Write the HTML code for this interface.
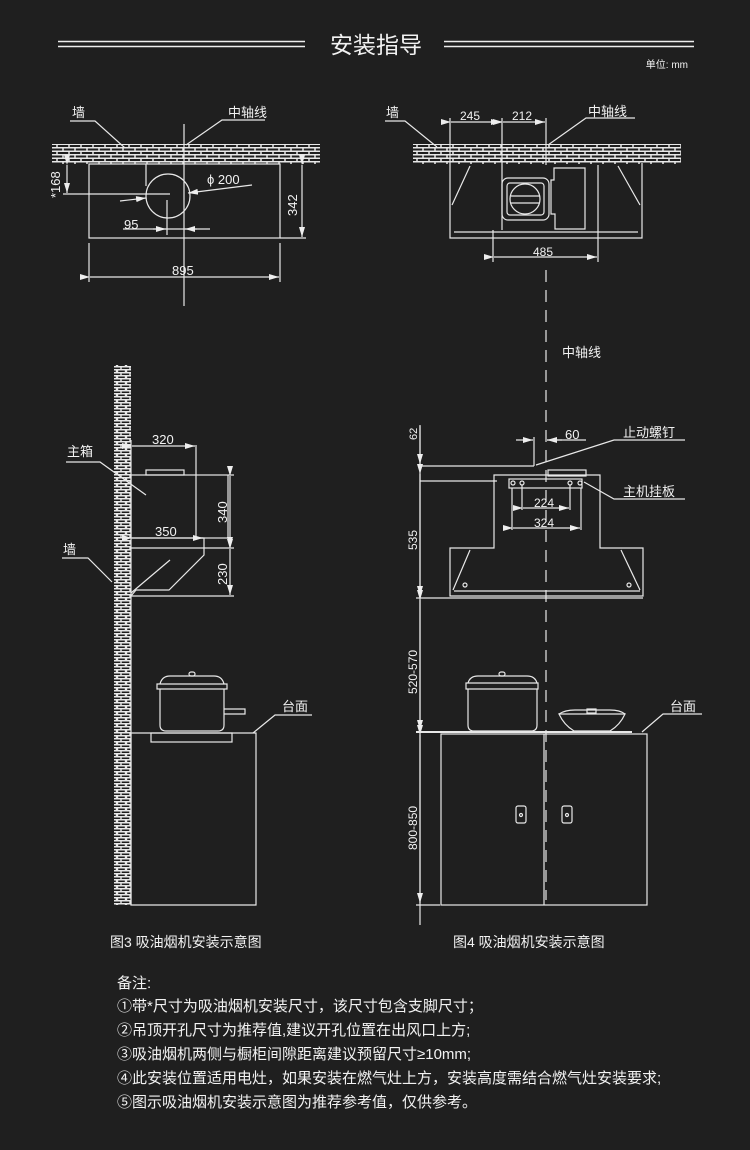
<!DOCTYPE html>
<html><head><meta charset="utf-8"><style>
html,body{margin:0;padding:0;background:#1f1f1f;}
svg{display:block;}
text{font-family:"Liberation Sans","Noto Sans CJK SC",sans-serif;fill:#f2f2f2;}
</style></head><body>
<svg width="750" height="1150" viewBox="0 0 750 1150" xmlns="http://www.w3.org/2000/svg">
<defs>
<pattern id="brickH" width="12" height="7" patternUnits="userSpaceOnUse">
<rect width="12" height="7" fill="#1f1f1f"/>
<path d="M0 0.75H12 M0 4.25H12 M3 0.75V4.25 M9 4.25V7" stroke="#e8e8e8" stroke-width="1.5" fill="none"/>
</pattern>
<pattern id="brickV" width="9" height="6" patternUnits="userSpaceOnUse">
<rect width="9" height="6" fill="#1f1f1f"/>
<path d="M0 0.75H9 M0 3.75H9 M4 0.75V3.75 M0.5 3.75V6 M8.5 3.75V6" stroke="#e8e8e8" stroke-width="1.4" fill="none"/>
</pattern>
<marker id="ar" markerWidth="10" markerHeight="6" refX="10" refY="3" orient="auto" markerUnits="userSpaceOnUse"><path d="M0 0L10 3L0 6Z" fill="#eee"/></marker>
</defs>
<rect width="750" height="1150" fill="#1f1f1f"/>

<g stroke="#eee" stroke-width="1.5">
<line x1="58" y1="41.5" x2="305" y2="41.5"/><line x1="58" y1="46.5" x2="305" y2="46.5"/>
<line x1="444" y1="41.5" x2="694" y2="41.5"/><line x1="444" y1="46.5" x2="694" y2="46.5"/>
</g>
<text x="376" y="53" font-size="23" text-anchor="middle">安装指导</text>
<text x="688" y="68" font-size="10" text-anchor="end">单位: mm</text>

<g stroke="#e8e8e8" stroke-width="1.2" fill="none">
<rect x="52" y="144" width="268" height="20" fill="url(#brickH)" stroke="none"/>
<rect x="89" y="164" width="191" height="74"/>
<line x1="184" y1="124" x2="184" y2="306"/>
<circle cx="168" cy="196" r="22"/>
<line x1="146" y1="164" x2="146" y2="186"/>
<line x1="63" y1="194" x2="170" y2="194"/>
<line x1="67" y1="165" x2="67" y2="193" marker-start="url(#ar)" marker-end="url(#ar)"/>
<line x1="302" y1="165" x2="302" y2="237" marker-start="url(#ar)" marker-end="url(#ar)"/>
<line x1="280" y1="238" x2="306" y2="238"/>
<line x1="89" y1="243" x2="89" y2="282"/><line x1="280" y1="243" x2="280" y2="282"/>
<line x1="90" y1="277" x2="279" y2="277" marker-start="url(#ar)" marker-end="url(#ar)"/>
<line x1="123" y1="229" x2="210" y2="229"/>
<line x1="167" y1="200" x2="167" y2="235"/>
<line x1="153" y1="229" x2="166" y2="229" marker-end="url(#ar)"/>
<line x1="197" y1="229" x2="185" y2="229" marker-end="url(#ar)"/>
<line x1="120" y1="201" x2="146" y2="198" marker-end="url(#ar)"/>
<line x1="252" y1="185" x2="188" y2="193" marker-end="url(#ar)"/>
<path d="M70 121H95L125 148" />
<path d="M265 120H222L186 145"/>

<rect x="413" y="144" width="268" height="20" fill="url(#brickH)" stroke="none"/>
<path d="M450 163V238H642V163"/>
<line x1="454" y1="232" x2="638" y2="232"/>
<path d="M470 166L452 205M618 166L640 205"/>
<line x1="450" y1="118" x2="450" y2="163"/>
<line x1="502" y1="118" x2="502" y2="230"/>
<line x1="546" y1="118" x2="546" y2="165"/>
<line x1="451" y1="122" x2="501" y2="122" marker-start="url(#ar)" marker-end="url(#ar)"/>
<line x1="503" y1="122" x2="545" y2="122" marker-start="url(#ar)" marker-end="url(#ar)"/>
<line x1="493" y1="230" x2="493" y2="262"/><line x1="598" y1="165" x2="598" y2="262"/>
<line x1="494" y1="257" x2="597" y2="257" marker-start="url(#ar)" marker-end="url(#ar)"/>
<rect x="502" y="178" width="47" height="42" rx="6"/>
<rect x="507" y="183" width="37" height="32" rx="3"/>
<circle cx="525" cy="199" r="15"/>
<line x1="511" y1="196" x2="540" y2="196"/><line x1="511" y1="203" x2="540" y2="203"/>
<path d="M554 168H585V229H555V214H551V180H554Z"/>
<path d="M635 118H586L548 145"/>
<path d="M385 121H405L437 147"/>
<line x1="546" y1="270" x2="546" y2="900" stroke-dasharray="12 8"/>

<rect x="114" y="365" width="17" height="540" fill="url(#brickV)" stroke="none"/>
<line x1="131" y1="440" x2="131" y2="905"/>
<rect x="146" y="470" width="38" height="5"/>
<rect x="131" y="475" width="97" height="63"/>
<line x1="131" y1="548" x2="234" y2="548"/>
<path d="M197 538H204V555L169 590H136L131 596"/>
<path d="M131 593L170 560"/>
<line x1="131" y1="596" x2="234" y2="596"/>
<line x1="196" y1="445" x2="196" y2="540"/>
<line x1="132" y1="446" x2="195" y2="446" marker-start="url(#ar)" marker-end="url(#ar)"/>
<line x1="132" y1="538" x2="203" y2="538" marker-start="url(#ar)" marker-end="url(#ar)"/>
<line x1="228" y1="475" x2="234" y2="475"/>
<line x1="230" y1="476" x2="230" y2="547" marker-start="url(#ar)" marker-end="url(#ar)"/>
<line x1="230" y1="549" x2="230" y2="595" marker-start="url(#ar)" marker-end="url(#ar)"/>
<path d="M66 462H100L146 495"/>
<path d="M62 558H88L112 582"/>
<rect x="151" y="733" width="81" height="9"/>
<path d="M160 689V725Q160 731 166 731H218Q224 731 224 725V689"/>
<path d="M157 684H227V689H157Z"/>
<path d="M160 684Q162 676 170 676H214Q222 676 224 684"/>
<rect x="189" y="672" width="6" height="4" rx="2"/>
<path d="M224 709H245V714H224"/>
<path d="M131 733V905H256V733H131"/>
<path d="M312 715H275L253 733"/>

<line x1="420" y1="425" x2="420" y2="925"/>
<line x1="420" y1="426" x2="420" y2="464" marker-end="url(#ar)"/>
<line x1="420" y1="474" x2="420" y2="596" marker-start="url(#ar)" marker-end="url(#ar)"/>
<line x1="420" y1="600" x2="420" y2="730" marker-start="url(#ar)" marker-end="url(#ar)"/>
<line x1="420" y1="735" x2="420" y2="903" marker-start="url(#ar)" marker-end="url(#ar)"/>
<line x1="420" y1="466" x2="534" y2="466"/>
<line x1="420" y1="481" x2="497" y2="481"/>
<line x1="416" y1="598" x2="643" y2="598"/>
<line x1="416" y1="905" x2="440" y2="905"/>
<line x1="534" y1="437" x2="534" y2="466"/>
<line x1="516" y1="440" x2="533" y2="440" marker-end="url(#ar)"/>
<line x1="562" y1="440" x2="547" y2="440" marker-end="url(#ar)"/>
<line x1="547" y1="440" x2="586" y2="440"/>
<rect x="548" y="470" width="38" height="6"/>
<path d="M494 548V475H600V548H643V596H450V548Z"/>
<line x1="454" y1="591" x2="640" y2="591"/>
<path d="M470 550L453 590M621 550L640 590"/>
<circle cx="465" cy="585" r="2"/><circle cx="629" cy="585" r="2"/>
<rect x="509" y="479" width="73" height="9"/>
<circle cx="513" cy="483" r="2"/><circle cx="522" cy="483" r="2"/><circle cx="570" cy="483" r="2"/><circle cx="580" cy="483" r="2"/>
<line x1="522" y1="485" x2="522" y2="510"/><line x1="570" y1="485" x2="570" y2="510"/>
<line x1="523" y1="508" x2="569" y2="508" marker-start="url(#ar)" marker-end="url(#ar)"/>
<line x1="512" y1="488" x2="512" y2="530"/><line x1="581" y1="488" x2="581" y2="530"/>
<line x1="513" y1="528" x2="580" y2="528" marker-start="url(#ar)" marker-end="url(#ar)"/>
<path d="M685 440H614L536 465"/>
<path d="M685 499H614L584 482"/>
<line x1="416" y1="732" x2="632" y2="732" stroke-width="2"/>
<path d="M468 689V725Q468 731 474 731H531Q537 731 537 725V689"/>
<path d="M466 683H538V689H466Z"/>
<path d="M468 683Q470 676 478 676H527Q535 676 537 683"/>
<rect x="499" y="672" width="6" height="4" rx="2"/>
<path d="M559 714H625Q620 725 610 731H574Q564 725 559 714Z"/>
<path d="M559 714Q565 710 575 710H610Q620 710 625 714"/>
<rect x="587" y="709" width="9" height="4"/>
<rect x="441" y="734" width="206" height="171"/>
<line x1="544" y1="734" x2="544" y2="905"/>
<rect x="516" y="806" width="10" height="17" rx="2"/><circle cx="521" cy="815" r="1.5"/>
<rect x="562" y="806" width="10" height="17" rx="2"/><circle cx="567" cy="815" r="1.5"/>
<path d="M702 714H663L642 732"/>
</g>

<g font-size="13">
<text x="72" y="117">墙</text>
<text x="228" y="117">中轴线</text>
<text x="207" y="184">ϕ 200</text>
<text x="124" y="229">95</text>
<text x="172" y="275">895</text>
<text x="386" y="117">墙</text>
<text x="588" y="116">中轴线</text>
<text x="460" y="120" font-size="12">245</text>
<text x="512" y="120" font-size="12">212</text>
<text x="533" y="256" font-size="12">485</text>
<text x="562" y="357">中轴线</text>
<text x="67" y="456">主箱</text>
<text x="63" y="554">墙</text>
<text x="152" y="444">320</text>
<text x="155" y="536">350</text>
<text x="282" y="711">台面</text>
<text x="670" y="711">台面</text>
<text x="565" y="439">60</text>
<text x="623" y="437">止动螺钉</text>
<text x="623" y="496">主机挂板</text>
<text x="534" y="507" font-size="12">224</text>
<text x="534" y="527" font-size="12">324</text>
</g>
<g font-size="13">
<text transform="translate(60,198) rotate(-90)">*168</text>
<text transform="translate(297,216) rotate(-90)">342</text>
<text transform="translate(227,523) rotate(-90)">340</text>
<text transform="translate(227,585) rotate(-90)">230</text>
<text transform="translate(417,440) rotate(-90)" font-size="11">62</text>
<text transform="translate(417,550) rotate(-90)" font-size="12">535</text>
<text transform="translate(417,694) rotate(-90)" font-size="12">520-570</text>
<text transform="translate(417,850) rotate(-90)" font-size="12">800-850</text>
</g>
<text x="110" y="947" font-size="14">图3 吸油烟机安装示意图</text>
<text x="453" y="947" font-size="14">图4 吸油烟机安装示意图</text>
<g font-size="15">
<text x="117" y="988">备注:</text>
<text x="117" y="1011">①带*尺寸为吸油烟机安装尺寸，该尺寸包含支脚尺寸；</text>
<text x="117" y="1035">②吊顶开孔尺寸为推荐值,建议开孔位置在出风口上方;</text>
<text x="117" y="1059">③吸油烟机两侧与橱柜间隙距离建议预留尺寸≥10mm;</text>
<text x="117" y="1083">④此安装位置适用电灶，如果安装在燃气灶上方，安装高度需结合燃气灶安装要求;</text>
<text x="117" y="1107">⑤图示吸油烟机安装示意图为推荐参考值，仅供参考。</text>
</g>
</svg>
</body></html>
